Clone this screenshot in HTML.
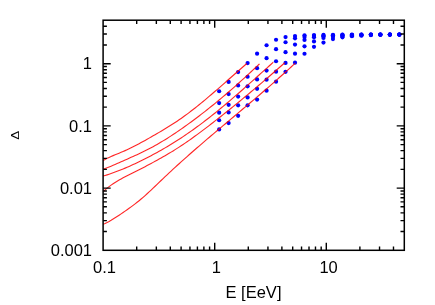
<!DOCTYPE html><html><head><meta charset="utf-8"><style>html,body{margin:0;padding:0;background:#fff;width:435px;height:305px;overflow:hidden;font-family:"Liberation Sans",sans-serif}</style></head><body><svg width="435" height="305" viewBox="0 0 435 305" style="position:absolute;left:0;top:0;will-change:transform">
<rect x="0" y="0" width="435" height="305" fill="#fff"/>
<circle cx="219.15" cy="91.25" r="2.1" fill="#0000ff"/>
<circle cx="228.63" cy="81.95" r="2.1" fill="#0000ff"/>
<circle cx="238.12" cy="72.05" r="2.1" fill="#0000ff"/>
<circle cx="247.60" cy="63.05" r="2.1" fill="#0000ff"/>
<circle cx="257.09" cy="53.65" r="2.1" fill="#0000ff"/>
<circle cx="266.57" cy="45.25" r="2.1" fill="#0000ff"/>
<circle cx="276.05" cy="39.75" r="2.1" fill="#0000ff"/>
<circle cx="285.54" cy="37.05" r="2.1" fill="#0000ff"/>
<circle cx="295.02" cy="36.05" r="2.1" fill="#0000ff"/>
<circle cx="304.51" cy="35.25" r="2.1" fill="#0000ff"/>
<circle cx="313.99" cy="35.05" r="2.1" fill="#0000ff"/>
<circle cx="323.47" cy="34.95" r="2.1" fill="#0000ff"/>
<circle cx="332.96" cy="34.85" r="2.1" fill="#0000ff"/>
<circle cx="342.44" cy="34.65" r="2.1" fill="#0000ff"/>
<circle cx="351.93" cy="34.55" r="2.1" fill="#0000ff"/>
<circle cx="361.41" cy="34.55" r="2.1" fill="#0000ff"/>
<circle cx="370.89" cy="34.55" r="2.1" fill="#0000ff"/>
<circle cx="380.38" cy="34.55" r="2.1" fill="#0000ff"/>
<circle cx="389.86" cy="34.55" r="2.1" fill="#0000ff"/>
<circle cx="399.35" cy="34.55" r="2.1" fill="#0000ff"/>
<circle cx="219.15" cy="103.05" r="2.1" fill="#0000ff"/>
<circle cx="228.63" cy="94.05" r="2.1" fill="#0000ff"/>
<circle cx="238.12" cy="85.45" r="2.1" fill="#0000ff"/>
<circle cx="247.60" cy="76.75" r="2.1" fill="#0000ff"/>
<circle cx="257.09" cy="68.15" r="2.1" fill="#0000ff"/>
<circle cx="266.57" cy="58.15" r="2.1" fill="#0000ff"/>
<circle cx="276.05" cy="49.15" r="2.1" fill="#0000ff"/>
<circle cx="285.54" cy="42.25" r="2.1" fill="#0000ff"/>
<circle cx="295.02" cy="38.35" r="2.1" fill="#0000ff"/>
<circle cx="304.51" cy="36.95" r="2.1" fill="#0000ff"/>
<circle cx="313.99" cy="36.05" r="2.1" fill="#0000ff"/>
<circle cx="323.47" cy="35.55" r="2.1" fill="#0000ff"/>
<circle cx="332.96" cy="35.25" r="2.1" fill="#0000ff"/>
<circle cx="342.44" cy="34.95" r="2.1" fill="#0000ff"/>
<circle cx="351.93" cy="34.80" r="2.1" fill="#0000ff"/>
<circle cx="361.41" cy="34.70" r="2.1" fill="#0000ff"/>
<circle cx="370.89" cy="34.60" r="2.1" fill="#0000ff"/>
<circle cx="380.38" cy="34.55" r="2.1" fill="#0000ff"/>
<circle cx="389.86" cy="34.55" r="2.1" fill="#0000ff"/>
<circle cx="399.35" cy="34.55" r="2.1" fill="#0000ff"/>
<circle cx="219.15" cy="112.65" r="2.1" fill="#0000ff"/>
<circle cx="228.63" cy="104.85" r="2.1" fill="#0000ff"/>
<circle cx="238.12" cy="96.55" r="2.1" fill="#0000ff"/>
<circle cx="247.60" cy="86.35" r="2.1" fill="#0000ff"/>
<circle cx="257.09" cy="79.45" r="2.1" fill="#0000ff"/>
<circle cx="266.57" cy="70.55" r="2.1" fill="#0000ff"/>
<circle cx="276.05" cy="61.25" r="2.1" fill="#0000ff"/>
<circle cx="285.54" cy="52.15" r="2.1" fill="#0000ff"/>
<circle cx="295.02" cy="44.55" r="2.1" fill="#0000ff"/>
<circle cx="304.51" cy="39.95" r="2.1" fill="#0000ff"/>
<circle cx="313.99" cy="37.25" r="2.1" fill="#0000ff"/>
<circle cx="323.47" cy="36.35" r="2.1" fill="#0000ff"/>
<circle cx="332.96" cy="35.75" r="2.1" fill="#0000ff"/>
<circle cx="342.44" cy="35.35" r="2.1" fill="#0000ff"/>
<circle cx="351.93" cy="35.15" r="2.1" fill="#0000ff"/>
<circle cx="361.41" cy="34.95" r="2.1" fill="#0000ff"/>
<circle cx="370.89" cy="34.70" r="2.1" fill="#0000ff"/>
<circle cx="380.38" cy="34.60" r="2.1" fill="#0000ff"/>
<circle cx="389.86" cy="34.55" r="2.1" fill="#0000ff"/>
<circle cx="399.35" cy="34.55" r="2.1" fill="#0000ff"/>
<circle cx="219.15" cy="120.25" r="2.1" fill="#0000ff"/>
<circle cx="228.63" cy="112.45" r="2.1" fill="#0000ff"/>
<circle cx="238.12" cy="105.35" r="2.1" fill="#0000ff"/>
<circle cx="247.60" cy="97.45" r="2.1" fill="#0000ff"/>
<circle cx="257.09" cy="88.85" r="2.1" fill="#0000ff"/>
<circle cx="266.57" cy="79.65" r="2.1" fill="#0000ff"/>
<circle cx="276.05" cy="71.65" r="2.1" fill="#0000ff"/>
<circle cx="285.54" cy="62.95" r="2.1" fill="#0000ff"/>
<circle cx="295.02" cy="53.65" r="2.1" fill="#0000ff"/>
<circle cx="304.51" cy="46.35" r="2.1" fill="#0000ff"/>
<circle cx="313.99" cy="41.45" r="2.1" fill="#0000ff"/>
<circle cx="323.47" cy="37.95" r="2.1" fill="#0000ff"/>
<circle cx="332.96" cy="36.85" r="2.1" fill="#0000ff"/>
<circle cx="342.44" cy="36.15" r="2.1" fill="#0000ff"/>
<circle cx="351.93" cy="35.65" r="2.1" fill="#0000ff"/>
<circle cx="361.41" cy="35.25" r="2.1" fill="#0000ff"/>
<circle cx="370.89" cy="34.85" r="2.1" fill="#0000ff"/>
<circle cx="380.38" cy="34.65" r="2.1" fill="#0000ff"/>
<circle cx="389.86" cy="34.60" r="2.1" fill="#0000ff"/>
<circle cx="399.35" cy="34.55" r="2.1" fill="#0000ff"/>
<circle cx="219.15" cy="129.45" r="2.1" fill="#0000ff"/>
<circle cx="228.63" cy="123.05" r="2.1" fill="#0000ff"/>
<circle cx="238.12" cy="115.85" r="2.1" fill="#0000ff"/>
<circle cx="247.60" cy="105.35" r="2.1" fill="#0000ff"/>
<circle cx="257.09" cy="99.55" r="2.1" fill="#0000ff"/>
<circle cx="266.57" cy="90.65" r="2.1" fill="#0000ff"/>
<circle cx="276.05" cy="81.65" r="2.1" fill="#0000ff"/>
<circle cx="285.54" cy="71.85" r="2.1" fill="#0000ff"/>
<circle cx="295.02" cy="62.65" r="2.1" fill="#0000ff"/>
<circle cx="304.51" cy="53.75" r="2.1" fill="#0000ff"/>
<circle cx="313.99" cy="46.85" r="2.1" fill="#0000ff"/>
<circle cx="323.47" cy="42.55" r="2.1" fill="#0000ff"/>
<circle cx="332.96" cy="39.05" r="2.1" fill="#0000ff"/>
<circle cx="342.44" cy="37.35" r="2.1" fill="#0000ff"/>
<circle cx="351.93" cy="36.25" r="2.1" fill="#0000ff"/>
<circle cx="361.41" cy="35.65" r="2.1" fill="#0000ff"/>
<circle cx="370.89" cy="35.05" r="2.1" fill="#0000ff"/>
<circle cx="380.38" cy="34.75" r="2.1" fill="#0000ff"/>
<circle cx="389.86" cy="34.65" r="2.1" fill="#0000ff"/>
<circle cx="399.35" cy="34.60" r="2.1" fill="#0000ff"/>
<path d="M103.10 160.49 L105.10 159.39 L107.10 158.37 L109.10 157.41 L111.10 156.50 L113.10 155.63 L115.10 154.79 L117.10 153.97 L119.10 153.15 L121.10 152.33 L123.10 151.50 L125.10 150.63 L127.10 149.73 L129.10 148.80 L131.10 147.83 L133.10 146.84 L135.10 145.81 L137.10 144.77 L139.10 143.70 L141.10 142.61 L143.10 141.51 L145.10 140.39 L147.10 139.26 L149.10 138.13 L151.10 136.99 L153.10 135.85 L155.10 134.70 L157.10 133.55 L159.10 132.38 L161.10 131.21 L163.10 130.02 L165.10 128.81 L167.10 127.59 L169.10 126.35 L171.10 125.09 L173.10 123.81 L175.10 122.50 L177.10 121.17 L179.10 119.81 L181.10 118.42 L183.10 117.01 L185.10 115.56 L187.10 114.09 L189.10 112.59 L191.10 111.06 L193.10 109.52 L195.10 107.95 L197.10 106.36 L199.10 104.75 L201.10 103.12 L203.10 101.47 L205.10 99.81 L207.10 98.13 L209.10 96.44 L211.10 94.73 L213.10 93.02 L215.10 91.29 L217.10 89.56 L219.10 87.81 L221.10 86.07 L223.10 84.31 L225.10 82.55 L227.10 80.79 L229.10 79.02 L231.10 77.26 L233.10 75.49 L235.10 73.73 L237.10 71.97 L239.10 70.22 L241.10 68.47 L243.10 66.72 L245.10 64.99 L246.80 63.52" fill="none" stroke="#ff0000" stroke-opacity="0.85" stroke-width="1.12" stroke-linejoin="round"/>
<path d="M103.10 169.30 L105.10 168.55 L107.10 167.77 L109.10 166.97 L111.10 166.15 L113.10 165.31 L115.10 164.45 L117.10 163.58 L119.10 162.70 L121.10 161.81 L123.10 160.92 L125.10 160.03 L127.10 159.14 L129.10 158.25 L131.10 157.36 L133.10 156.46 L135.10 155.55 L137.10 154.64 L139.10 153.71 L141.10 152.76 L143.10 151.80 L145.10 150.83 L147.10 149.82 L149.10 148.80 L151.10 147.75 L153.10 146.67 L155.10 145.56 L157.10 144.43 L159.10 143.27 L161.10 142.09 L163.10 140.89 L165.10 139.66 L167.10 138.41 L169.10 137.14 L171.10 135.85 L173.10 134.54 L175.10 133.20 L177.10 131.85 L179.10 130.49 L181.10 129.10 L183.10 127.70 L185.10 126.29 L187.10 124.86 L189.10 123.41 L191.10 121.95 L193.10 120.48 L195.10 118.99 L197.10 117.48 L199.10 115.97 L201.10 114.43 L203.10 112.89 L205.10 111.33 L207.10 109.75 L209.10 108.16 L211.10 106.56 L213.10 104.95 L215.10 103.32 L217.10 101.68 L219.10 100.02 L221.10 98.35 L223.10 96.67 L225.10 94.97 L227.10 93.27 L229.10 91.54 L231.10 89.81 L233.10 88.06 L235.10 86.30 L237.10 84.53 L239.10 82.75 L241.10 80.95 L243.10 79.14 L245.10 77.32 L247.10 75.48 L249.10 73.64 L251.10 71.78 L253.10 69.91 L255.10 68.03 L257.10 66.13 L259.10 64.23 L259.50 63.84" fill="none" stroke="#ff0000" stroke-opacity="0.85" stroke-width="1.12" stroke-linejoin="round"/>
<path d="M103.10 176.08 L105.10 175.48 L107.10 174.85 L109.10 174.20 L111.10 173.52 L113.10 172.82 L115.10 172.09 L117.10 171.34 L119.10 170.57 L121.10 169.77 L123.10 168.96 L125.10 168.12 L127.10 167.27 L129.10 166.39 L131.10 165.50 L133.10 164.59 L135.10 163.66 L137.10 162.72 L139.10 161.76 L141.10 160.78 L143.10 159.78 L145.10 158.78 L147.10 157.75 L149.10 156.71 L151.10 155.66 L153.10 154.59 L155.10 153.51 L157.10 152.42 L159.10 151.30 L161.10 150.18 L163.10 149.03 L165.10 147.87 L167.10 146.69 L169.10 145.50 L171.10 144.29 L173.10 143.06 L175.10 141.81 L177.10 140.54 L179.10 139.25 L181.10 137.94 L183.10 136.62 L185.10 135.27 L187.10 133.91 L189.10 132.52 L191.10 131.12 L193.10 129.70 L195.10 128.26 L197.10 126.80 L199.10 125.33 L201.10 123.84 L203.10 122.33 L205.10 120.80 L207.10 119.26 L209.10 117.71 L211.10 116.13 L213.10 114.55 L215.10 112.94 L217.10 111.33 L219.10 109.69 L221.10 108.05 L223.10 106.39 L225.10 104.72 L227.10 103.03 L229.10 101.34 L231.10 99.64 L233.10 97.92 L235.10 96.20 L237.10 94.46 L239.10 92.72 L241.10 90.97 L243.10 89.22 L245.10 87.45 L247.10 85.68 L249.10 83.91 L251.10 82.13 L253.10 80.35 L255.10 78.56 L257.10 76.77 L259.10 74.98 L261.10 73.19 L263.10 71.39 L265.10 69.60 L267.10 67.81 L269.10 66.01 L271.10 64.22 L273.10 62.43 L273.30 62.25" fill="none" stroke="#ff0000" stroke-opacity="0.85" stroke-width="1.12" stroke-linejoin="round"/>
<path d="M103.10 191.65 L105.10 189.85 L107.10 188.17 L109.10 186.59 L111.10 185.12 L113.10 183.73 L115.10 182.43 L117.10 181.20 L119.10 180.03 L121.10 178.92 L123.10 177.85 L125.10 176.82 L127.10 175.80 L129.10 174.80 L131.10 173.79 L133.10 172.78 L135.10 171.77 L137.10 170.76 L139.10 169.73 L141.10 168.70 L143.10 167.67 L145.10 166.63 L147.10 165.58 L149.10 164.52 L151.10 163.45 L153.10 162.38 L155.10 161.29 L157.10 160.19 L159.10 159.08 L161.10 157.96 L163.10 156.82 L165.10 155.67 L167.10 154.50 L169.10 153.32 L171.10 152.12 L173.10 150.90 L175.10 149.65 L177.10 148.39 L179.10 147.11 L181.10 145.80 L183.10 144.47 L185.10 143.12 L187.10 141.75 L189.10 140.36 L191.10 138.94 L193.10 137.52 L195.10 136.07 L197.10 134.61 L199.10 133.13 L201.10 131.64 L203.10 130.14 L205.10 128.63 L207.10 127.10 L209.10 125.57 L211.10 124.02 L213.10 122.47 L215.10 120.91 L217.10 119.34 L219.10 117.77 L221.10 116.19 L223.10 114.61 L225.10 113.02 L227.10 111.42 L229.10 109.82 L231.10 108.21 L233.10 106.60 L235.10 104.98 L237.10 103.35 L239.10 101.72 L241.10 100.08 L243.10 98.43 L245.10 96.78 L247.10 95.12 L249.10 93.46 L251.10 91.79 L253.10 90.11 L255.10 88.43 L257.10 86.74 L259.10 85.05 L261.10 83.35 L263.10 81.64 L265.10 79.93 L267.10 78.21 L269.10 76.48 L271.10 74.75 L273.10 73.02 L275.10 71.27 L277.10 69.52 L279.10 67.76 L281.10 66.00 L283.10 64.23 L284.80 62.73" fill="none" stroke="#ff0000" stroke-opacity="0.85" stroke-width="1.12" stroke-linejoin="round"/>
<path d="M103.10 224.33 L105.10 223.46 L107.10 222.49 L109.10 221.43 L111.10 220.30 L113.10 219.09 L115.10 217.84 L117.10 216.54 L119.10 215.21 L121.10 213.87 L123.10 212.52 L125.10 211.15 L127.10 209.75 L129.10 208.33 L131.10 206.89 L133.10 205.40 L135.10 203.88 L137.10 202.31 L139.10 200.70 L141.10 199.04 L143.10 197.32 L145.10 195.56 L147.10 193.76 L149.10 191.93 L151.10 190.07 L153.10 188.18 L155.10 186.28 L157.10 184.36 L159.10 182.44 L161.10 180.52 L163.10 178.60 L165.10 176.69 L167.10 174.79 L169.10 172.91 L171.10 171.05 L173.10 169.19 L175.10 167.35 L177.10 165.52 L179.10 163.71 L181.10 161.90 L183.10 160.11 L185.10 158.32 L187.10 156.55 L189.10 154.78 L191.10 153.02 L193.10 151.27 L195.10 149.53 L197.10 147.79 L199.10 146.06 L201.10 144.34 L203.10 142.62 L205.10 140.90 L207.10 139.19 L209.10 137.49 L211.10 135.78 L213.10 134.09 L215.10 132.39 L217.10 130.70 L219.10 129.01 L221.10 127.32 L223.10 125.63 L225.10 123.95 L227.10 122.26 L229.10 120.58 L231.10 118.90 L233.10 117.22 L235.10 115.53 L237.10 113.85 L239.10 112.17 L241.10 110.48 L243.10 108.79 L245.10 107.11 L247.10 105.41 L249.10 103.72 L251.10 102.02 L253.10 100.33 L255.10 98.62 L257.10 96.91 L259.10 95.20 L261.10 93.49 L263.10 91.77 L265.10 90.04 L267.10 88.31 L269.10 86.57 L271.10 84.83 L273.10 83.08 L275.10 81.32 L277.10 79.56 L279.10 77.78 L281.10 76.00 L283.10 74.21 L285.10 72.42 L287.10 70.61 L289.10 68.80 L291.10 66.97 L293.10 65.14 L295.10 63.29 L295.20 63.20" fill="none" stroke="#ff0000" stroke-opacity="0.85" stroke-width="1.12" stroke-linejoin="round"/>
<rect x="103.10" y="20.20" width="301.20" height="230.10" fill="none" stroke="#000" stroke-width="1.50"/>
<path d="M136.69 250.30 V246.50 M136.69 20.20 V24.00 M156.35 250.30 V246.50 M156.35 20.20 V24.00 M170.29 250.30 V246.50 M170.29 20.20 V24.00 M181.10 250.30 V246.50 M181.10 20.20 V24.00 M189.94 250.30 V246.50 M189.94 20.20 V24.00 M197.41 250.30 V246.50 M197.41 20.20 V24.00 M203.88 250.30 V246.50 M203.88 20.20 V24.00 M209.59 250.30 V246.50 M209.59 20.20 V24.00 M214.70 250.30 V242.70 M214.70 20.20 V27.80 M248.29 250.30 V246.50 M248.29 20.20 V24.00 M267.94 250.30 V246.50 M267.94 20.20 V24.00 M281.89 250.30 V246.50 M281.89 20.20 V24.00 M292.70 250.30 V246.50 M292.70 20.20 V24.00 M301.54 250.30 V246.50 M301.54 20.20 V24.00 M309.01 250.30 V246.50 M309.01 20.20 V24.00 M315.48 250.30 V246.50 M315.48 20.20 V24.00 M321.19 250.30 V246.50 M321.19 20.20 V24.00 M326.30 250.30 V242.70 M326.30 20.20 V27.80 M359.89 250.30 V246.50 M359.89 20.20 V24.00 M379.54 250.30 V246.50 M379.54 20.20 V24.00 M393.49 250.30 V246.50 M393.49 20.20 V24.00 M103.10 231.57 H106.90 M404.30 231.57 H400.50 M103.10 220.62 H106.90 M404.30 220.62 H400.50 M103.10 212.85 H106.90 M404.30 212.85 H400.50 M103.10 206.82 H106.90 M404.30 206.82 H400.50 M103.10 201.89 H106.90 M404.30 201.89 H400.50 M103.10 197.73 H106.90 M404.30 197.73 H400.50 M103.10 194.12 H106.90 M404.30 194.12 H400.50 M103.10 190.94 H106.90 M404.30 190.94 H400.50 M103.10 188.09 H110.70 M404.30 188.09 H396.70 M103.10 169.37 H106.90 M404.30 169.37 H400.50 M103.10 158.41 H106.90 M404.30 158.41 H400.50 M103.10 150.64 H106.90 M404.30 150.64 H400.50 M103.10 144.61 H106.90 M404.30 144.61 H400.50 M103.10 139.69 H106.90 M404.30 139.69 H400.50 M103.10 135.52 H106.90 M404.30 135.52 H400.50 M103.10 131.92 H106.90 M404.30 131.92 H400.50 M103.10 128.73 H106.90 M404.30 128.73 H400.50 M103.10 125.89 H110.70 M404.30 125.89 H396.70 M103.10 107.16 H106.90 M404.30 107.16 H400.50 M103.10 96.21 H106.90 M404.30 96.21 H400.50 M103.10 88.43 H106.90 M404.30 88.43 H400.50 M103.10 82.41 H106.90 M404.30 82.41 H400.50 M103.10 77.48 H106.90 M404.30 77.48 H400.50 M103.10 73.32 H106.90 M404.30 73.32 H400.50 M103.10 69.71 H106.90 M404.30 69.71 H400.50 M103.10 66.53 H106.90 M404.30 66.53 H400.50 M103.10 63.68 H110.70 M404.30 63.68 H396.70 M103.10 44.95 H106.90 M404.30 44.95 H400.50 M103.10 34.00 H106.90 M404.30 34.00 H400.50 M103.10 26.23 H106.90 M404.30 26.23 H400.50" fill="none" stroke="#000" stroke-width="1.40"/>
<text x="92.00" y="69.38" text-anchor="end" font-family="Liberation Sans, sans-serif" font-size="16.50" fill="#000">1</text>
<text x="92.00" y="131.59" text-anchor="end" font-family="Liberation Sans, sans-serif" font-size="16.50" fill="#000">0.1</text>
<text x="92.00" y="193.79" text-anchor="end" font-family="Liberation Sans, sans-serif" font-size="16.50" fill="#000">0.01</text>
<text x="92.00" y="256.00" text-anchor="end" font-family="Liberation Sans, sans-serif" font-size="16.50" fill="#000">0.001</text>
<text x="104.50" y="273.10" text-anchor="middle" font-family="Liberation Sans, sans-serif" font-size="16.50" fill="#000">0.1</text>
<text x="216.40" y="273.10" text-anchor="middle" font-family="Liberation Sans, sans-serif" font-size="16.50" fill="#000">1</text>
<text x="328.60" y="273.10" text-anchor="middle" font-family="Liberation Sans, sans-serif" font-size="16.50" fill="#000">10</text>
<text x="253.50" y="298.00" text-anchor="middle" font-family="Liberation Sans, sans-serif" font-size="16.50" fill="#000">E [EeV]</text>
<text transform="translate(18.9 135.3) rotate(-90) scale(1.1 0.96)" x="0" y="0" text-anchor="middle" font-family="Liberation Sans, sans-serif" font-size="12.2" fill="#000">&#916;</text>
</svg></body></html>
